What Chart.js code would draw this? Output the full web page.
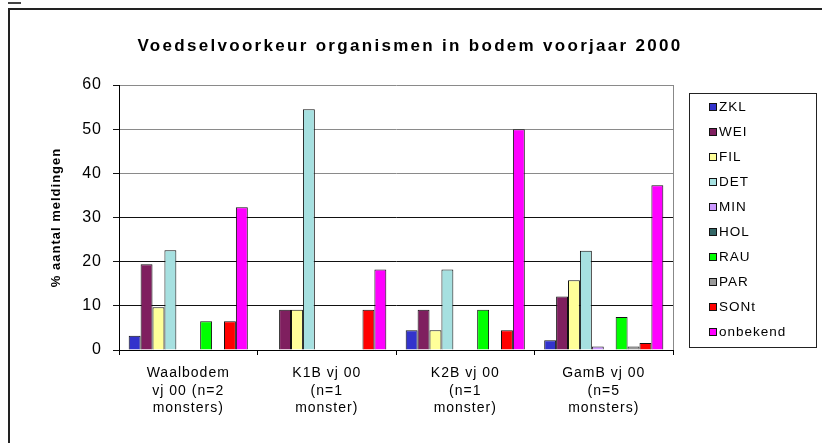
<!DOCTYPE html>
<html>
<head>
<meta charset="utf-8">
<script src="https://cdn.jsdelivr.net/npm/chart.js@4/dist/chart.umd.min.js"></script>
<style>
  html, body { margin: 0; padding: 0; background: #fff; overflow: hidden; }
</style>
</head>
<body>
<canvas id="myChart" width="822" height="443"></canvas>
<script>
// categories (x axis), each label split over lines
var categories = [
  ["Waalbodem", "vj 00 (n=2", "monsters)"],
  ["K1B vj 00", "(n=1", "monster)"],
  ["K2B vj 00", "(n=1", "monster)"],
  ["GamB vj 00", "(n=5", "monsters)"]
];

var seriesNames = ["ZKL", "WEI", "FIL", "DET", "MIN", "HOL", "RAU", "PAR", "SONt", "onbekend"];
var seriesColors = ["#3333CC", "#7F1F5F", "#FFFF99", "#A6E0E0", "#CC99FF", "#336666", "#00FF00", "#999999", "#FF0000", "#FF00FF"];

// % per category, one array per series
var ZKL      = [3.2, 0,    4.5,  2.2];
var WEI      = [19.4, 9.1, 9.1,  12.1];
var FIL      = [9.7, 9.1,  4.5,  15.8];
var DET      = [22.6, 54.5, 18.2, 22.5];
var MIN      = [0,   0,    0,    0.8];
var HOL      = [0,   0,    0,    0];
var RAU      = [6.5, 0,    9.1,  7.5];
var PAR      = [0,   0,    0,    0.8];
var SONt     = [6.5, 9.1,  4.5,  1.6];
var onbekend = [32.3, 18.2, 50,  37.3];

var seriesValues = [ZKL, WEI, FIL, DET, MIN, HOL, RAU, PAR, SONt, onbekend];
var yTicks = [0, 10, 20, 30, 40, 50, 60];

var FONT = "'Liberation Sans', Arial, sans-serif";

var datasets = [];
for (var i = 0; i < seriesNames.length; i++) {
  datasets.push({
    label: seriesNames[i],
    data: seriesValues[i],
    backgroundColor: seriesColors[i],
    borderColor: "#111",
    borderWidth: 1,
    categoryPercentage: 0.86,
    barPercentage: 1
  });
}

// frame, title, plot border and boxed legend, all drawn by hand
var decor = {
  id: "decor",
  beforeDraw: function (chart) {
    var ctx = chart.ctx;
    ctx.save();
    ctx.fillStyle = "#fff";
    ctx.fillRect(0, 0, chart.width, chart.height);
    // outer frame (left and top edges only visible)
    ctx.fillStyle = "#222";
    ctx.fillRect(8, 8, chart.width - 8, 2);
    ctx.fillRect(8, 8, 2, chart.height - 8);
    ctx.fillStyle = "#444";
    ctx.fillRect(8, 2, 13, 2);
    ctx.restore();
    ctx.letterSpacing = "1px";
  },
  afterDraw: function (chart) {
    var ctx = chart.ctx, a = chart.chartArea;
    ctx.save();
    // plot right border
    ctx.strokeStyle = "#888";
    ctx.lineWidth = 1;
    ctx.beginPath();
    ctx.moveTo(a.right + 0.5, a.top);
    ctx.lineTo(a.right + 0.5, a.bottom);
    ctx.stroke();

    // title
    ctx.letterSpacing = "2.3px";
    ctx.fillStyle = "#000";
    ctx.font = "bold 17px " + FONT;
    ctx.textAlign = "center";
    ctx.textBaseline = "middle";
    ctx.fillText("Voedselvoorkeur organismen in bodem voorjaar 2000", 410, 46);

    // legend
    var lx = 689, ly = 93, lw = 127, lh = 254;
    ctx.strokeStyle = "#222";
    ctx.strokeRect(lx + 0.5, ly + 0.5, lw, lh);
    ctx.letterSpacing = "1px";
    ctx.font = "13.5px " + FONT;
    ctx.textAlign = "left";
    chart.data.datasets.forEach(function (ds, k) {
      var y = 107 + k * 25;
      ctx.fillStyle = ds.backgroundColor;
      ctx.fillRect(709.5, y - 3.5, 7, 7);
      ctx.strokeStyle = "#111";
      ctx.strokeRect(709.5, y - 3.5, 7, 7);
      ctx.fillStyle = "#000";
      ctx.fillText(ds.label, 719, y);
    });
    ctx.restore();
  }
};

new Chart("myChart", {
  type: "bar",
  data: { labels: categories, datasets: datasets },
  plugins: [decor],
  options: {
    responsive: false,
    animation: false,
    layout: { padding: { top: 85, right: 149, bottom: 0, left: 0 } },
    plugins: {
      legend: { display: false },
      title: { display: false },
      tooltip: { enabled: false }
    },
    scales: {
      x: {
        afterFit: function (s) { s.height = 93; },
        grid: { offset: true, drawOnChartArea: false, color: "#000", tickLength: 5 },
        border: { color: "#000", width: 1 },
        ticks: {
          color: "#000",
          font: { family: FONT, size: 14, lineHeight: 1.27 },
          padding: 9,
          maxRotation: 0,
          autoSkip: false
        }
      },
      y: {
        min: 0,
        max: 60,
        afterFit: function (s) { s.width = 119; },
        afterBuildTicks: function (s) {
          s.ticks = yTicks.map(function (v) { return { value: v }; });
        },
        grid: {
          color: function (c) { return c.tick && c.tick.value >= 40 ? "#8a8a8a" : "#111"; },
          tickColor: "#111",
          tickLength: 6
        },
        border: { color: "#000", width: 1 },
        ticks: {
          color: "#000",
          font: { family: FONT, size: 16 },
          padding: 11
        },
        title: {
          display: true,
          text: "% aantal meldingen",
          color: "#000",
          font: { family: FONT, size: 13, weight: "bold" },
          padding: { top: 49, bottom: 0 }
        }
      }
    }
  }
});
</script>
</body>
</html>
